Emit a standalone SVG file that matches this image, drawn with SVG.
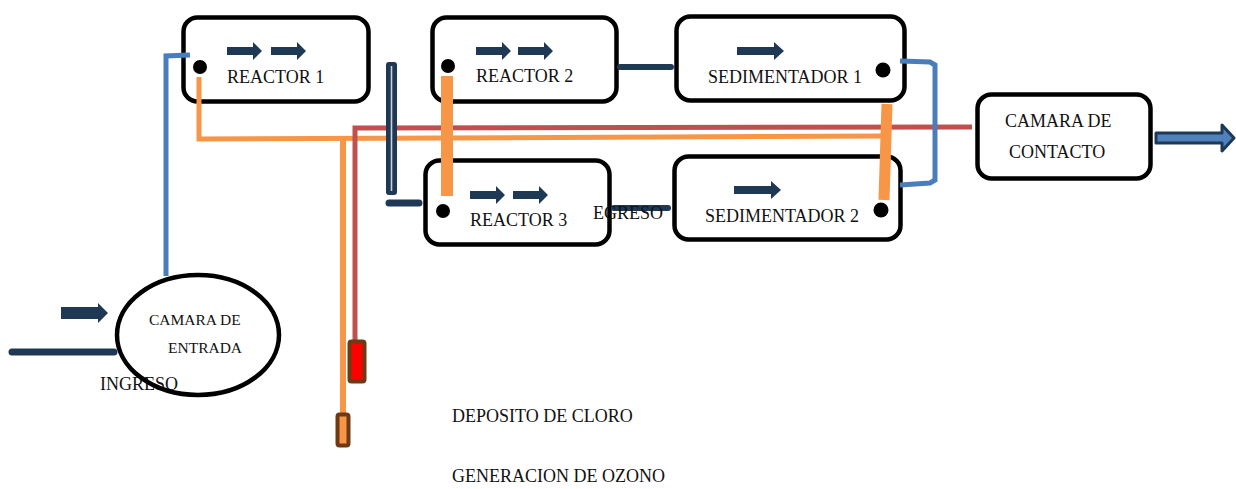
<svg xmlns="http://www.w3.org/2000/svg" width="1236" height="489" viewBox="0 0 1236 489">
<style>
.box{fill:#fff;stroke:#000;stroke-width:4.5}
.t{font-family:"Liberation Serif","Times New Roman",serif;font-size:18px;fill:#111}
.ts{font-family:"Liberation Serif","Times New Roman",serif;font-size:15.5px;fill:#111}
.navy{stroke:#1F3854;fill:none;stroke-linecap:round}
.blue{stroke:#4A7EBB;fill:none;stroke-width:5}
.org{stroke:#F79646;fill:none}
.red{stroke:#C0504D;fill:none}
.dot{fill:#000}
</style>
<defs>
<path id="arr" d="M0,-4 H26 V-9 L35,0 L26,9 V4 H0 Z" fill="#1F3854"/>
<path id="arrL" d="M0,-4 H37 V-9 L47,0 L37,9 V4 H0 Z" fill="#1F3854"/>
</defs>
<rect width="1236" height="489" fill="#fff"/>

<g id="texts-free">
<text class="t" x="100" y="390">INGRESO</text>
<text class="t" x="452" y="422">DEPOSITO DE CLORO</text>
<text class="t" x="452" y="482">GENERACION DE OZONO</text>
</g>

<g id="reactor1">
<rect class="box" x="183.5" y="17.5" width="185" height="84" rx="14"/>
<use href="#arr" x="227" y="51"/>
<use href="#arr" x="271" y="51"/>
<text class="t" x="227" y="83">REACTOR 1</text>
</g>
<g id="reactor2">
<rect class="box" x="432.5" y="17.5" width="184" height="84" rx="14"/>
<use href="#arr" x="476" y="51"/>
<use href="#arr" x="518" y="51"/>
<text class="t" x="476" y="82">REACTOR 2</text>
</g>
<g id="reactor3">
<rect class="box" x="425.5" y="160.5" width="184" height="84" rx="14"/>
<use href="#arr" x="470" y="195"/>
<use href="#arr" x="513" y="195"/>
<text class="t" x="470" y="226">REACTOR 3</text>
</g>
<g id="sedimentador1">
<rect class="box" x="676.5" y="16.5" width="228" height="84" rx="14"/>
<use href="#arrL" x="737" y="51"/>
<text class="t" x="708" y="83">SEDIMENTADOR 1</text>
</g>
<g id="sedimentador2">
<rect class="box" x="674.5" y="156.5" width="226" height="83" rx="14"/>
<use href="#arrL" x="734" y="190"/>
<text class="t" x="705" y="222">SEDIMENTADOR 2</text>
</g>
<g id="camara-contacto">
<rect class="box" x="977.5" y="94.5" width="173" height="84" rx="14"/>
<text class="t" x="1005" y="127">CAMARA DE</text>
<text class="t" x="1009" y="158">CONTACTO</text>
</g>

<g id="connectors">
<line class="navy" x1="12" y1="352" x2="114" y2="352" stroke-width="7"/>
<path d="M61,307 H98 V303 L108,313 L98,323 V319 H61 Z" fill="#1F3854"/>
<polyline class="blue" points="166,276 166,56 190,55"/>
<polyline class="org" points="199,77 199,139 885,136" stroke-width="5"/>
<line class="org" x1="343" y1="138" x2="343" y2="414" stroke-width="6"/>
<polyline class="red" points="355,340 355,128 972,127" stroke-width="5"/>
<rect x="386" y="62" width="11" height="133" rx="3" fill="#1F3854"/>
<line x1="391.5" y1="66" x2="391.5" y2="191" stroke="#C9D1DC" stroke-width="1.6"/>
<line class="navy" x1="389" y1="203" x2="419" y2="203" stroke-width="7"/>
<line class="navy" x1="620" y1="67" x2="671" y2="67" stroke-width="6" stroke-linecap="butt"/>
<line class="navy" x1="614" y1="208" x2="668" y2="208" stroke-width="6"/>
<line class="org" x1="447" y1="76" x2="447" y2="196" stroke-width="12"/>
<line class="org" x1="887" y1="104" x2="884" y2="200" stroke-width="11"/>
<polyline class="blue" points="900,61 930,62 935,65 935,180 930,183 900,185"/>
<path d="M1156,133 H1222 V125 L1234,138 L1222,151 V143 H1156 Z" fill="#4F81BD" stroke="#1F3854" stroke-width="3" stroke-linejoin="round"/>
<rect x="349.5" y="341.5" width="15" height="40" rx="2" fill="#FF0000" stroke="#6E3A14" stroke-width="4"/>
<rect x="337.5" y="414.5" width="11" height="31" rx="2" fill="#F79646" stroke="#6E3A14" stroke-width="4"/>
</g>

<g id="ports">
<circle class="dot" cx="200" cy="67" r="7"/>
<circle class="dot" cx="448" cy="66" r="7"/>
<circle class="dot" cx="443" cy="211" r="7"/>
<circle class="dot" cx="883" cy="70" r="7.5"/>
<circle class="dot" cx="881" cy="210" r="7.5"/>
</g>

<g id="camara-entrada">
<ellipse cx="198" cy="335" rx="81" ry="60" fill="none" stroke="#000" stroke-width="4.5"/>
<text class="ts" x="149" y="325">CAMARA DE</text>
<text class="ts" x="168" y="353">ENTRADA</text>
</g>

<text class="t" x="593" y="219">EGRESO</text>
</svg>
